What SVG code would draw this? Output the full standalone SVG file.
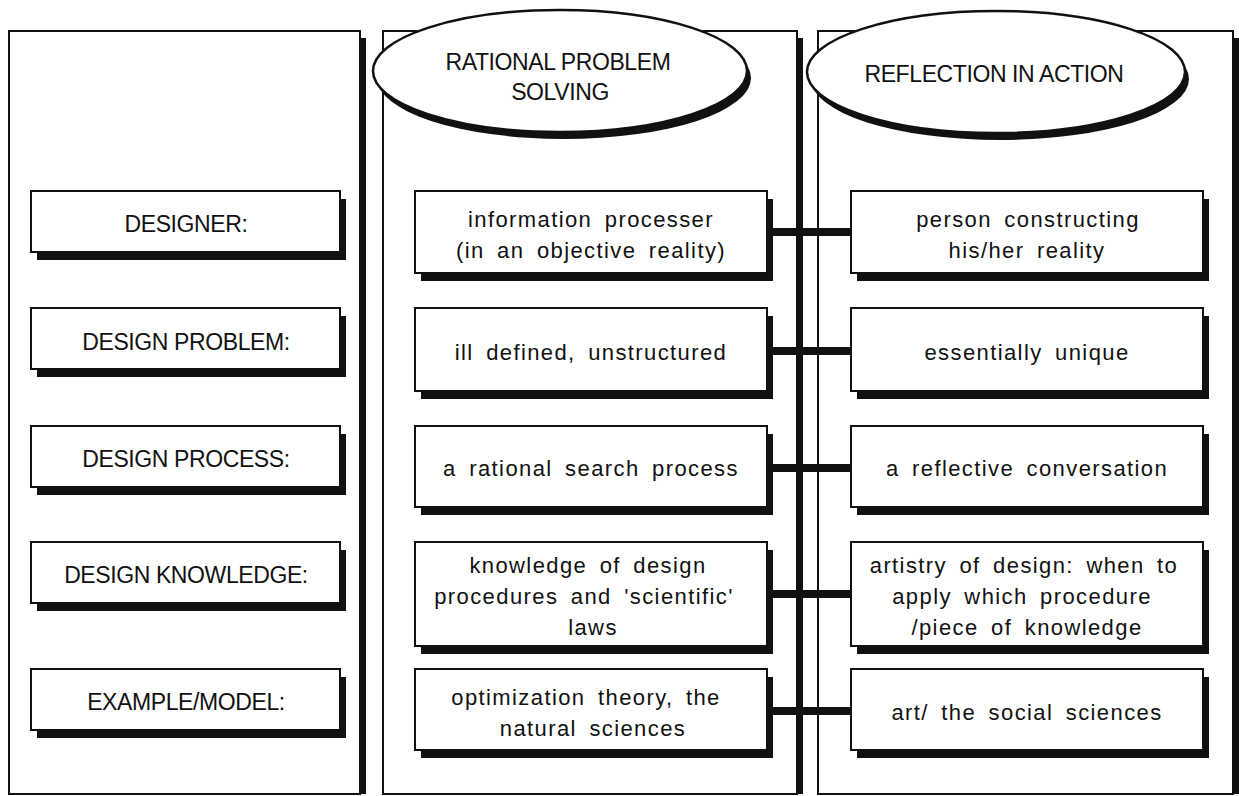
<svg xmlns="http://www.w3.org/2000/svg" width="1239" height="796" viewBox="0 0 1239 796">
  <defs>
    <style>
      .panel { fill: #fff; stroke: #111; stroke-width: 2; }
      .shadow { fill: #111; }
      .box { fill: #fff; stroke: #111; stroke-width: 2; }
      .oval { fill: #fff; stroke: #111; stroke-width: 2.5; }
      .caps { font-family: "Liberation Sans", Arial, sans-serif; font-size: 23px; letter-spacing: -0.4px; fill: #111; text-anchor: middle; }
      .body { font-family: "Liberation Sans", Arial, sans-serif; font-size: 22px; letter-spacing: 1.4px; word-spacing: 5px; fill: #111; text-anchor: middle; }
      .link { stroke: #111; stroke-width: 8; fill: none; }
    </style>
  </defs>
  <rect width="1239" height="796" fill="#fff"/>

  <!-- column frames (shadow only along the right edge) -->
  <g id="column-labels">
    <rect class="shadow" x="15" y="38" width="351" height="756"/>
    <rect class="panel" x="9" y="31" width="351" height="763"/>
  </g>
  <g id="column-rational">
    <rect class="shadow" x="389" y="38" width="414" height="756"/>
    <rect class="panel" x="383" y="31" width="414" height="763"/>
  </g>
  <g id="column-reflection">
    <rect class="shadow" x="824" y="38" width="415" height="756"/>
    <rect class="panel" x="818" y="31" width="415" height="763"/>
  </g>

  <!-- column headings -->
  <g id="heading-rational">
    <ellipse class="shadow" cx="564" cy="78" rx="187" ry="61"/>
    <ellipse class="oval" cx="560" cy="71" rx="187" ry="61"/>
    <text class="caps" x="558" y="70">RATIONAL PROBLEM</text>
    <text class="caps" x="560" y="100">SOLVING</text>
  </g>
  <g id="heading-reflection">
    <ellipse class="shadow" cx="1000" cy="79" rx="189" ry="61"/>
    <ellipse class="oval" cx="996" cy="72" rx="189" ry="61"/>
    <text class="caps" x="994" y="82">REFLECTION IN ACTION</text>
  </g>

  <!-- connectors between the two approaches -->
  <g id="connectors">
    <line class="link" x1="767" y1="232" x2="851" y2="232"/>
    <line class="link" x1="767" y1="351" x2="851" y2="351"/>
    <line class="link" x1="767" y1="468" x2="851" y2="468"/>
    <line class="link" x1="767" y1="594" x2="851" y2="594"/>
    <line class="link" x1="767" y1="711" x2="851" y2="711"/>
  </g>

  <!-- row labels -->
  <g id="label-designer">
    <rect class="shadow" x="37" y="199" width="309" height="61"/>
    <rect class="box" x="31" y="191" width="309" height="61"/>
    <text class="caps" x="186" y="232">DESIGNER:</text>
  </g>
  <g id="label-problem">
    <rect class="shadow" x="37" y="316" width="309" height="61"/>
    <rect class="box" x="31" y="308" width="309" height="61"/>
    <text class="caps" x="186" y="350">DESIGN PROBLEM:</text>
  </g>
  <g id="label-process">
    <rect class="shadow" x="37" y="434" width="309" height="61"/>
    <rect class="box" x="31" y="426" width="309" height="61"/>
    <text class="caps" x="186" y="467">DESIGN PROCESS:</text>
  </g>
  <g id="label-knowledge">
    <rect class="shadow" x="37" y="550" width="309" height="61"/>
    <rect class="box" x="31" y="542" width="309" height="61"/>
    <text class="caps" x="186" y="583">DESIGN KNOWLEDGE:</text>
  </g>
  <g id="label-model">
    <rect class="shadow" x="37" y="677" width="309" height="61"/>
    <rect class="box" x="31" y="669" width="309" height="61"/>
    <text class="caps" x="186" y="710">EXAMPLE/MODEL:</text>
  </g>

  <!-- rational problem solving entries -->
  <g id="rps-designer">
    <rect class="shadow" x="421" y="199" width="352" height="82"/>
    <rect class="box" x="415" y="191" width="352" height="82"/>
    <text class="body" x="591" y="227">information processer</text>
    <text class="body" x="591" y="258">(in an objective reality)</text>
  </g>
  <g id="rps-problem">
    <rect class="shadow" x="421" y="316" width="352" height="83"/>
    <rect class="box" x="415" y="308" width="352" height="83"/>
    <text class="body" x="591" y="360">ill defined, unstructured</text>
  </g>
  <g id="rps-process">
    <rect class="shadow" x="421" y="434" width="352" height="81"/>
    <rect class="box" x="415" y="426" width="352" height="81"/>
    <text class="body" x="591" y="476">a rational search process</text>
  </g>
  <g id="rps-knowledge">
    <rect class="shadow" x="421" y="550" width="352" height="104"/>
    <rect class="box" x="415" y="542" width="352" height="104"/>
    <text class="body" x="588" y="573">knowledge of design</text>
    <text class="body" x="584" y="604">procedures and 'scientific'</text>
    <text class="body" x="593" y="635">laws</text>
  </g>
  <g id="rps-model">
    <rect class="shadow" x="421" y="677" width="352" height="81"/>
    <rect class="box" x="415" y="669" width="352" height="81"/>
    <text class="body" x="586" y="705">optimization theory, the</text>
    <text class="body" x="593" y="736">natural sciences</text>
  </g>

  <!-- reflection in action entries -->
  <g id="ria-designer">
    <rect class="shadow" x="857" y="199" width="352" height="82"/>
    <rect class="box" x="851" y="191" width="352" height="82"/>
    <text class="body" x="1028" y="227">person constructing</text>
    <text class="body" x="1027" y="258">his/her reality</text>
  </g>
  <g id="ria-problem">
    <rect class="shadow" x="857" y="316" width="352" height="83"/>
    <rect class="box" x="851" y="308" width="352" height="83"/>
    <text class="body" x="1027" y="360">essentially unique</text>
  </g>
  <g id="ria-process">
    <rect class="shadow" x="857" y="434" width="352" height="81"/>
    <rect class="box" x="851" y="426" width="352" height="81"/>
    <text class="body" x="1027" y="476">a reflective conversation</text>
  </g>
  <g id="ria-knowledge">
    <rect class="shadow" x="857" y="550" width="352" height="104"/>
    <rect class="box" x="851" y="542" width="352" height="104"/>
    <text class="body" x="1024" y="573">artistry of design: when to</text>
    <text class="body" x="1022" y="604">apply which procedure</text>
    <text class="body" x="1027" y="635">/piece of knowledge</text>
  </g>
  <g id="ria-model">
    <rect class="shadow" x="857" y="677" width="352" height="81"/>
    <rect class="box" x="851" y="669" width="352" height="81"/>
    <text class="body" x="1027" y="720">art/ the social sciences</text>
  </g>
</svg>
